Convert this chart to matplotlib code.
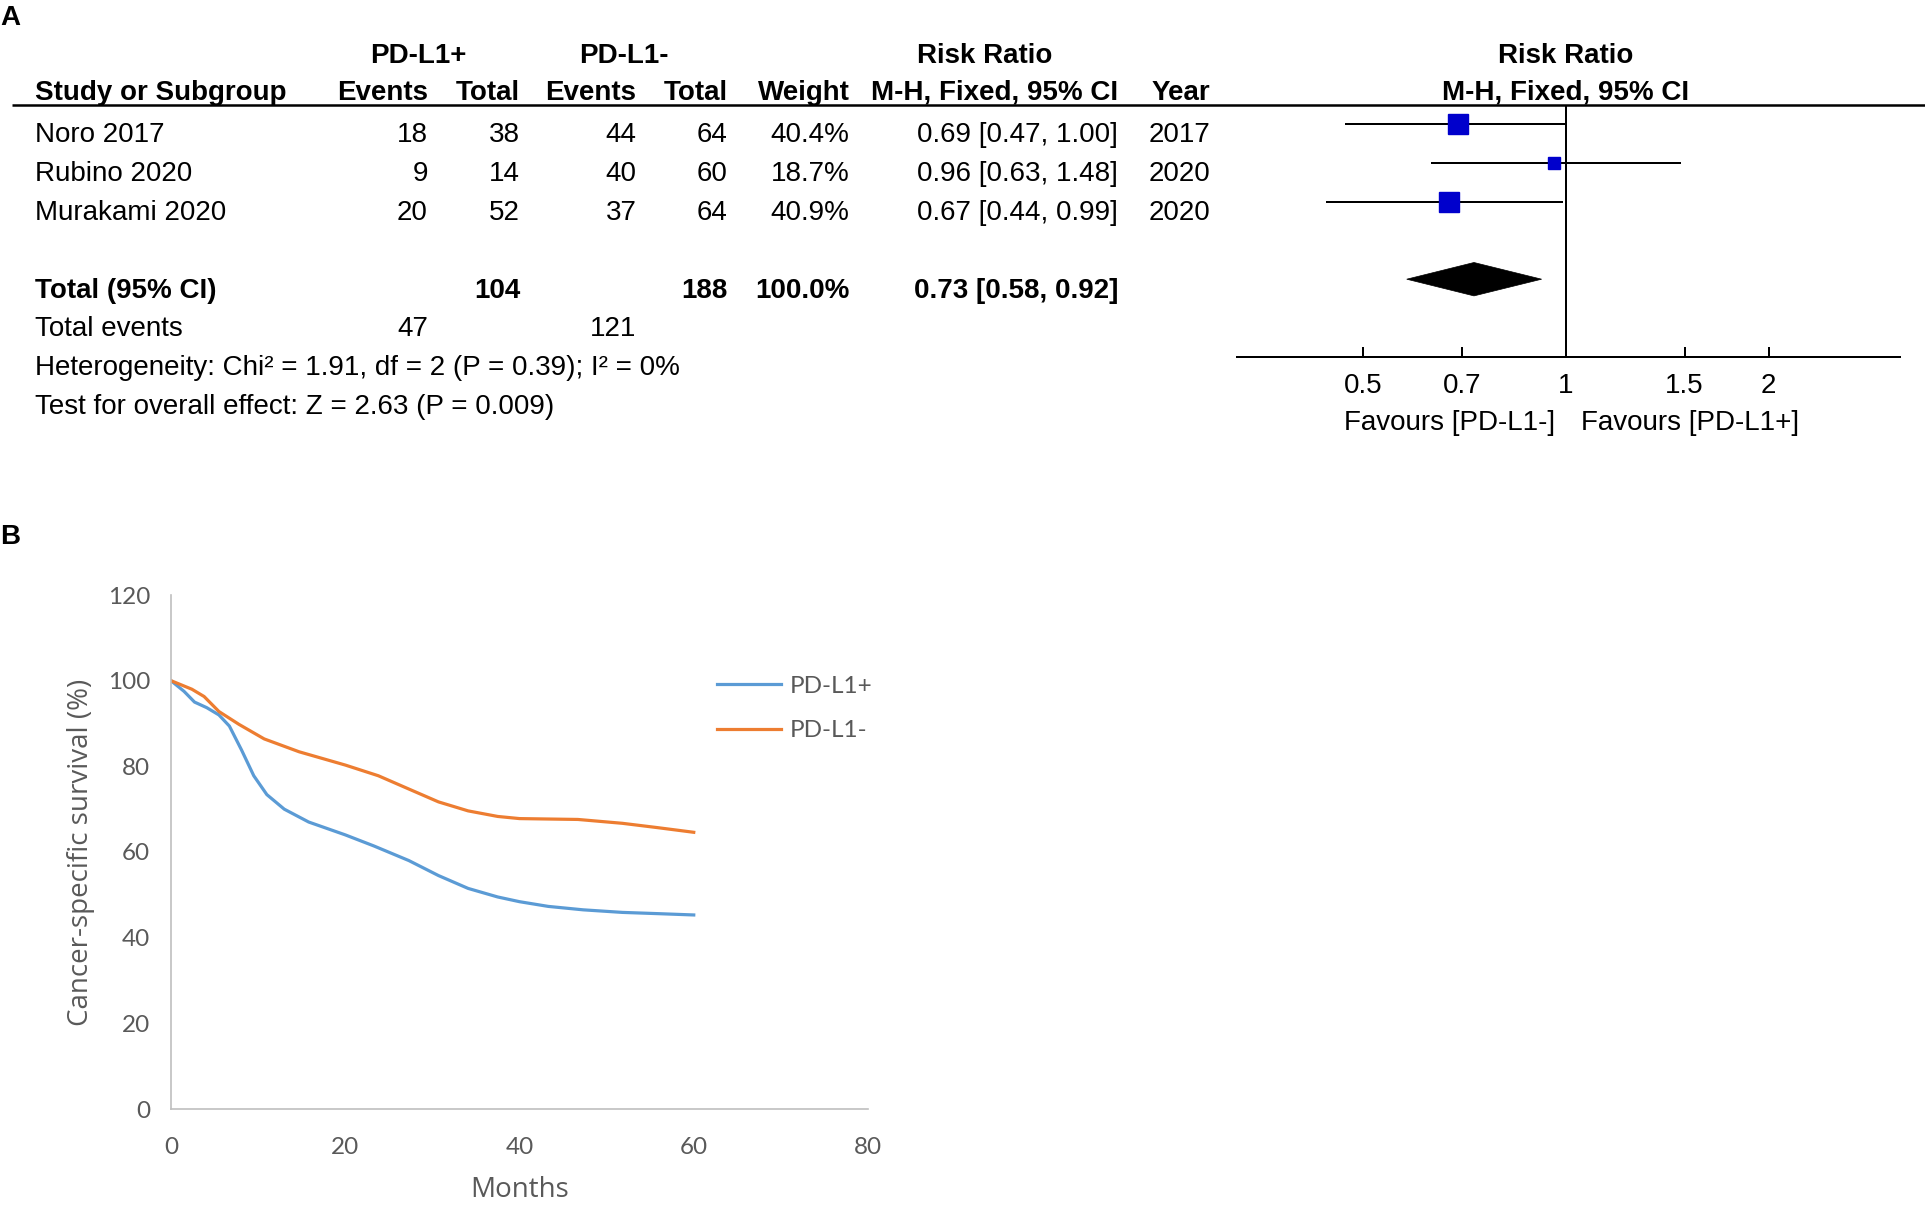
import numpy as np
import matplotlib
matplotlib.use("Agg")
import matplotlib.pyplot as plt
from matplotlib.patches import Polygon

# ---- panel A data (forest plot) ----
studies = ['Noro 2017', 'Rubino 2020', 'Murakami 2020']
events_pos = [18, 9, 20]
total_pos = [38, 14, 52]
events_neg = [44, 40, 37]
total_neg = [64, 60, 64]
weights = [40.4, 18.7, 40.9]
rr = [0.69, 0.96, 0.67]
rr_lo = [0.47, 0.63, 0.44]
rr_hi = [1.00, 1.48, 0.99]
years = [2017, 2020, 2020]
pooled = [0.73, 0.58, 0.92]
het_text = 'Heterogeneity: Chi\u00b2 = 1.91, df = 2 (P = 0.39); I\u00b2 = 0%'
effect_text = 'Test for overall effect: Z = 2.63 (P = 0.009)'
forest_ticks = [0.5, 0.7, 1, 1.5, 2]
forest_ticklabels = ['0.5', '0.7', '1', '1.5', '2']

# ---- panel B data (survival curves) ----
months_pos = [0, 1.5, 2.7, 4.1, 5.5, 6.7, 8.1, 9.5, 11, 13, 15.8, 20, 23.3,
              27.3, 30.7, 34.1, 37.5, 40, 43.3, 47.3, 51.8, 56, 60]
surv_pos = [100, 97.5, 95, 93.7, 92, 89.4, 83.8, 77.8, 73.4, 70, 67, 64, 61.4,
            58, 54.5, 51.5, 49.5, 48.4, 47.3, 46.5, 45.9, 45.6, 45.3]
months_neg = [0, 2.4, 3.8, 5.5, 7.8, 10.7, 14.7, 20, 23.8, 27.3, 30.7, 34.1,
              37.5, 40, 43.3, 46.7, 51.8, 55.8, 60]
surv_neg = [100, 98, 96.3, 92.8, 89.8, 86.4, 83.4, 80.3, 77.8, 74.7, 71.7, 69.6,
            68.3, 67.8, 67.7, 67.6, 66.7, 65.7, 64.6]

W, H = 1925, 1206
fig = plt.figure(figsize=(W / 100, H / 100), dpi=100)

ARIAL = 'Liberation Sans'
FS = 20


def px_axes(left, top, right, bottom):
    return fig.add_axes([left / W, 1 - bottom / H, (right - left) / W, (bottom - top) / H])


# full-figure axes in pixel units for the table text
tab = fig.add_axes([0, 0, 1, 1])
tab.set_xlim(0, W)
tab.set_ylim(H, 0)
tab.axis('off')

row_h = 38.8
base0 = 142.5   # text baseline of first study row
mark0 = 124.0   # marker centre of first study row


def txt(x, r, s, ha='right', bold=False):
    tab.text(x, base0 + r * row_h, s, ha=ha, va='baseline', fontsize=FS,
             family=ARIAL, fontweight='bold' if bold else 'normal', color='black')


tab.text(0, 5, 'A', ha='left', va='top', fontsize=20, family=ARIAL, fontweight='bold')
tab.text(0, 524, 'B', ha='left', va='top', fontsize=20, family=ARIAL, fontweight='bold')

# column right edges
c_name, c_ev1, c_tot1, c_ev2, c_tot2, c_w, c_ci, c_yr = 35, 428, 520, 636.5, 728, 849.5, 1118, 1210

# header rows
hdr1, hdr2 = 63, 100
for x, s in [(418, 'PD-L1+'), (624, 'PD-L1-'), (984.7, 'Risk Ratio'), (1566, 'Risk Ratio')]:
    tab.text(x, hdr1, s, ha='center', va='baseline', fontsize=FS, family=ARIAL, fontweight='bold')
tab.text(c_name, hdr2, 'Study or Subgroup', ha='left', va='baseline', fontsize=FS,
         family=ARIAL, fontweight='bold')
for x, s in [(c_ev1, 'Events'), (c_tot1, 'Total'), (c_ev2, 'Events'), (c_tot2, 'Total'),
             (c_w, 'Weight'), (c_ci, 'M-H, Fixed, 95% CI'), (c_yr, 'Year')]:
    tab.text(x, hdr2, s, ha='right', va='baseline', fontsize=FS, family=ARIAL, fontweight='bold')
tab.text(1566, hdr2, 'M-H, Fixed, 95% CI', ha='center', va='baseline', fontsize=FS,
         family=ARIAL, fontweight='bold')
tab.plot([11.6, W], [105, 105], color='black', lw=1.8, solid_capstyle='butt')

# study rows
for i, name in enumerate(studies):
    txt(c_name, i, name, ha='left')
    txt(c_ev1, i, str(events_pos[i]))
    txt(c_tot1, i, str(total_pos[i]))
    txt(c_ev2, i, str(events_neg[i]))
    txt(c_tot2, i, str(total_neg[i]))
    txt(c_w, i, f'{weights[i]:.1f}%')
    txt(c_ci, i, f'{rr[i]:.2f} [{rr_lo[i]:.2f}, {rr_hi[i]:.2f}]')
    txt(c_yr, i, str(years[i]))

r_tot = 4
txt(c_name, r_tot, 'Total (95% CI)', ha='left', bold=True)
txt(c_tot1, r_tot, str(sum(total_pos)), bold=True)
txt(c_tot2, r_tot, str(sum(total_neg)), bold=True)
txt(c_w, r_tot, f'{sum(weights):.1f}%', bold=True)
txt(c_ci, r_tot, f'{pooled[0]:.2f} [{pooled[1]:.2f}, {pooled[2]:.2f}]', bold=True)
txt(c_name, 5, 'Total events', ha='left')
txt(c_ev1, 5, str(sum(events_pos)))
txt(c_ev2, 5, str(sum(events_neg)))
txt(c_name, 6, het_text, ha='left')
txt(c_name, 7, effect_text, ha='left')

tab.text(1555, 430, 'Favours [PD-L1-]', ha='right', va='baseline', fontsize=FS, family=ARIAL)
tab.text(1581, 430, 'Favours [PD-L1+]', ha='left', va='baseline', fontsize=FS, family=ARIAL)

# ---- forest plot axes ----
f_top, f_bot = 104.7, 356.7
axf = px_axes(1236.5, f_top, 1900, f_bot)
axf.set_xscale('log')
px_per_ln = 292.4
axf.set_xlim(np.exp((1236.5 - 1566) / px_per_ln), np.exp((1900 - 1566) / px_per_ln))
axf.set_ylim((f_bot - mark0) / row_h, (f_top - mark0) / row_h)
axf.patch.set_alpha(0)
for s in ['top', 'left', 'right']:
    axf.spines[s].set_visible(False)
axf.spines['bottom'].set_linewidth(1.44)
axf.set_yticks([])
axf.xaxis.set_minor_locator(matplotlib.ticker.NullLocator())
axf.set_xticks(forest_ticks)
axf.set_xticklabels(forest_ticklabels, family=ARIAL, fontsize=FS)
axf.tick_params(axis='x', direction='in', length=7.2, width=1.44, pad=12)
axf.axvline(1, color='black', lw=1.44)

for i in range(len(studies)):
    axf.plot([rr_lo[i], rr_hi[i]], [i, i], color='black', lw=1.44, solid_capstyle='butt')
    axf.plot(rr[i], i, marker='s', ms=2.99 * np.sqrt(weights[i]) * 0.72,
             color='#0000CC', mec='#0000CC', ls='none')
dh = 16.7 / row_h
diamond = Polygon([[pooled[1], r_tot], [pooled[0], r_tot - dh],
                   [pooled[2], r_tot], [pooled[0], r_tot + dh]],
                  closed=True, facecolor='black', edgecolor='black', lw=0.5)
axf.add_patch(diamond)

# ---- panel B: survival curves ----
LATO = 'Lato'
SEGOE = 'Open Sans'
grey = '#595959'
axb = px_axes(171, 595, 868, 1109)
axb.plot(months_pos, surv_pos, color='#5B9BD5', lw=2.3, label='PD-L1+',
         solid_joinstyle='round')
axb.plot(months_neg, surv_neg, color='#ED7D31', lw=2.3, label='PD-L1-',
         solid_joinstyle='round')
axb.set_xlim(0, 80)
axb.set_ylim(0, 120)
axb.set_xticks(range(0, 81, 20))
axb.set_yticks(range(0, 121, 20))
for s in ['top', 'right']:
    axb.spines[s].set_visible(False)
for s in ['left', 'bottom']:
    axb.spines[s].set_color('#BFBFBF')
    axb.spines[s].set_linewidth(1.2)
axb.tick_params(axis='both', length=0, labelcolor=grey, labelsize=17.5)
axb.tick_params(axis='y', pad=15)
axb.tick_params(axis='x', pad=20)
for lab in axb.get_xticklabels() + axb.get_yticklabels():
    lab.set_family(LATO)
axb.set_ylabel('Cancer-specific survival (%)', family=SEGOE, fontsize=20, color=grey,
               labelpad=9)
axb.set_xlabel('Months', family=SEGOE, fontsize=20, color=grey, labelpad=13)
leg = axb.legend(loc='upper left', bbox_to_anchor=(0.752, 0.885), frameon=False,
                 prop={'family': LATO, 'size': 17.5}, handlelength=2.63,
                 handletextpad=0.37, labelspacing=0.95)
for t in leg.get_texts():
    t.set_color(grey)

fig.savefig('out.png', dpi=100)
